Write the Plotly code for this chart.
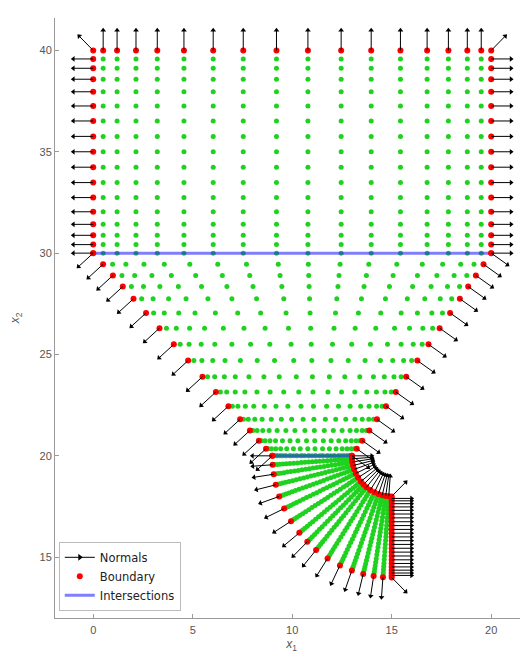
import numpy as np
import plotly.graph_objects as go

# ---------------- data ----------------
# column parameter (0..1) shared by the rectangle and the trapezoid
col_s = [0, 0.025, 0.06, 0.1075, 0.161, 0.228, 0.3015, 0.377, 0.4605,
         0.5395, 0.623, 0.6985, 0.772, 0.839, 0.8925, 0.94, 0.975, 1]
# rectangle [0,20] x [30,40]: row depths below y = 40
rect_x = [0, 20]
rect_y = [30, 40]
rect_depth = [0, 0.42, 0.88, 1.42, 2.04, 2.74, 3.48, 4.24, 5.0,
              5.76, 6.52, 7.26, 7.96, 8.58, 9.12, 9.58, 10]
# trapezoid: top edge y=30 (x 0..20), bottom edge y=20 (x 9..13)
trap_top = [0, 20]
trap_bot = [9, 13]
trap_y = [20, 30]
trap_drop = [0, 0.55, 1.1, 1.65, 2.25, 2.95, 3.7, 4.5, 5.3,
             6.1, 6.85, 7.55, 8.2, 8.75, 9.25, 9.65, 10]
# quarter annulus centred at (15,20), r 2..6, angle 180..270 deg
ann_center = [15, 20]
ann_angle = [0, 4.2, 8.7, 13.8, 19.5, 25.7, 32.5, 39.3, 45,
             50.7, 57.5, 64.3, 70.5, 76.2, 81.3, 85.8, 90]
ann_r = [2, 2.1, 2.22, 2.36, 2.52, 2.69, 2.87, 3.06, 3.25, 3.44, 3.63,
         3.815, 4.0, 4.185, 4.37, 4.56, 4.75, 4.94, 5.13, 5.31, 5.48,
         5.64, 5.78, 5.9, 6]
# interfaces
inter_segments = [([0, 20], [30, 30]), ([9, 13], [20, 20])]
arrow_len = 1.0
x_ticks = [0, 5, 10, 15, 20]
y_ticks = [15, 20, 25, 30, 35, 40]

# ---------------- build mesh points ----------------
gx, gy = [], []          # interior points
bx, by = [], []          # boundary points
nrm = []                 # (x, y, nx, ny)


def unit(v):
    v = np.asarray(v, float)
    return v / np.hypot(*v)


# rectangle
cx = [rect_x[0] + s * (rect_x[1] - rect_x[0]) for s in col_s]
nc = len(cx)
for j, d in enumerate(rect_depth):
    y = rect_y[1] - d
    for i, x in enumerate(cx):
        left, right, top = i == 0, i == nc - 1, j == 0
        if left or right or top:
            bx.append(x); by.append(y)
            n = np.array([0.0, 0.0])
            if left:
                n += [-1, 0]
            if right:
                n += [1, 0]
            if top:
                n += [0, 1]
            n = unit(n)
            nrm.append((x, y, n[0], n[1]))
        else:
            gx.append(x); gy.append(y)

# trapezoid
nL = unit([-(trap_y[1] - trap_y[0]), -(trap_bot[0] - trap_top[0])])
nR = unit([(trap_y[1] - trap_y[0]), (trap_bot[1] - trap_top[1])])
H = trap_y[1] - trap_y[0]
for k, d in enumerate(trap_drop):
    t = d / H
    y = trap_y[1] - d
    L = trap_top[0] + t * (trap_bot[0] - trap_top[0])
    R = trap_top[1] + t * (trap_bot[1] - trap_top[1])
    for i, s in enumerate(col_s):
        x = L + s * (R - L)
        if i == 0:
            bx.append(x); by.append(y); nrm.append((x, y, nL[0], nL[1]))
        elif i == nc - 1:
            bx.append(x); by.append(y); nrm.append((x, y, nR[0], nR[1]))
        elif k > 0:
            gx.append(x); gy.append(y)

# annulus
for a in ann_angle:
    th = np.deg2rad(180 + a)
    c, s = np.cos(th), np.sin(th)
    for ri, r in enumerate(ann_r):
        x = ann_center[0] + r * c
        y = ann_center[1] + r * s
        inner, outer, edge = ri == 0, ri == len(ann_r) - 1, a == ann_angle[-1]
        if inner or outer or edge:
            bx.append(x); by.append(y)
            n = np.array([0.0, 0.0])
            if inner:
                n += [-c, -s]
            if outer:
                n += [c, s]
            if edge:
                n += [1, 0]
            n = unit(n)
            nrm.append((x, y, n[0], n[1]))
        else:
            gx.append(x); gy.append(y)

# arrows
sx, sy, hx, hy, ha = [], [], [], [], []
for (x, y, nx, ny) in nrm:
    tx, ty = x + arrow_len * nx, y + arrow_len * ny
    sx += [x, tx, None]
    sy += [y, ty, None]
    hx.append(tx); hy.append(ty)
    ha.append(np.degrees(np.arctan2(nx, ny)))

# ---------------- figure ----------------
fig = go.Figure()
fig.add_trace(go.Scatter(x=gx, y=gy, mode="markers", showlegend=False,
                         marker=dict(color="#1fd21f", size=5, symbol="circle"),
                         hoverinfo="skip"))
for k, (xs, ys) in enumerate(inter_segments):
    fig.add_trace(go.Scatter(x=xs, y=ys, mode="lines", name="Intersections",
                             legendgroup="int", showlegend=(k == 0),
                             legendrank=3,
                             line=dict(color="rgba(40,40,255,0.6)", width=3)))
fig.add_trace(go.Scatter(x=bx, y=by, mode="markers", name="Boundary",
                         legendrank=2,
                         marker=dict(color="#ff0000", size=6, symbol="circle")))
fig.add_trace(go.Scatter(x=sx, y=sy, mode="lines", showlegend=False,
                         line=dict(color="black", width=1), hoverinfo="skip"))
fig.add_trace(go.Scatter(x=hx, y=hy, mode="markers", showlegend=False,
                         marker=dict(color="black", size=5, symbol="triangle-up",
                                     angle=ha, line=dict(width=0)),
                         hoverinfo="skip"))
fig.add_trace(go.Scatter(x=[None], y=[None], mode="lines+markers", name="Normals",
                         legendrank=1,
                         line=dict(color="black", width=1),
                         marker=dict(color="black", size=6, symbol="triangle-right")))

axis_common = dict(showgrid=False, zeroline=False, showline=True,
                   linecolor="#9a9a9a", linewidth=1, ticks="inside",
                   ticklen=4, tickcolor="#9a9a9a", mirror=False,
                   tickfont=dict(family="Liberation Sans", size=11, color="#555555"),
                   automargin=False)
# the page body has an 8px margin: the figure is sized/offset to compensate
fig.update_layout(
    width=520, height=645,
    margin=dict(l=47, r=0, t=10, b=35),
    paper_bgcolor="white", plot_bgcolor="white",
    font=dict(family="Liberation Sans", size=11, color="#333333"),
    xaxis=dict(range=[-1.92, 21.85], tickvals=x_ticks, ticklabelstandoff=2,
               title=dict(text="<i>x</i><sub>1</sub>", standoff=16,
                          font=dict(size=12, color="#555555")),
               **axis_common),
    yaxis=dict(range=[12.0, 41.6], tickvals=y_ticks,
               title=dict(text="<i>x</i><sub>2</sub>", standoff=18,
                          font=dict(size=12, color="#555555")),
               **axis_common),
    legend=dict(x=0.008, y=0.012, xanchor="left", yanchor="bottom",
                bgcolor="white", bordercolor="#bbbbbb", borderwidth=1,
                font=dict(family="DejaVu Sans", size=11.5, color="#222222"),
                tracegroupgap=0, itemwidth=30),
    showlegend=True,
)
fig.write_html("out.html")
